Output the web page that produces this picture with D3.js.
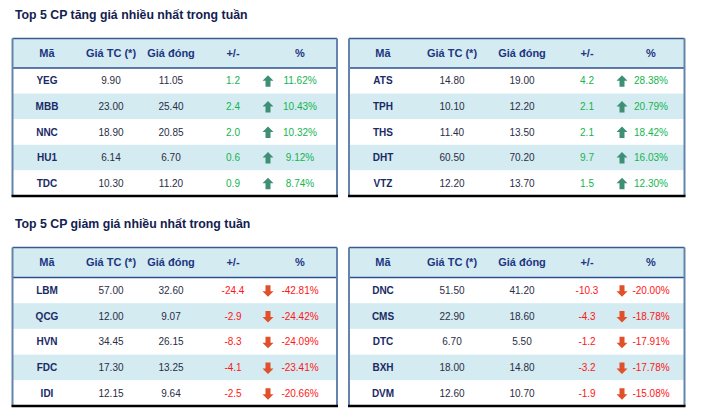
<!DOCTYPE html>
<html>
<head>
<meta charset="utf-8">
<script src="https://cdn.jsdelivr.net/npm/d3@7"></script>
<style>
  body { margin: 0; background: #fff; }
  text { font-family: "Liberation Sans", Arial, sans-serif; }
</style>
</head>
<body>
<div id="chart"></div>
<script>
// header labels
var headers = ["Mã", "Giá TC (*)", "Giá đóng", "+/-", "%"];

// top 5 tang gia - trai
var upCodes1 = ["YEG", "MBB", "NNC", "HU1", "TDC"];
var upRef1   = [9.90, 23.00, 18.90, 6.14, 10.30];
var upClose1 = [11.05, 25.40, 20.85, 6.70, 11.20];
var upChg1   = [1.2, 2.4, 2.0, 0.6, 0.9];
var upPct1   = [11.62, 10.43, 10.32, 9.12, 8.74];

// top 5 tang gia - phai
var upCodes2 = ["ATS", "TPH", "THS", "DHT", "VTZ"];
var upRef2   = [14.80, 10.10, 11.40, 60.50, 12.20];
var upClose2 = [19.00, 12.20, 13.50, 70.20, 13.70];
var upChg2   = [4.2, 2.1, 2.1, 9.7, 1.5];
var upPct2   = [28.38, 20.79, 18.42, 16.03, 12.30];

// top 5 giam gia - trai
var dnCodes1 = ["LBM", "QCG", "HVN", "FDC", "IDI"];
var dnRef1   = [57.00, 12.00, 34.45, 17.30, 12.15];
var dnClose1 = [32.60, 9.07, 26.15, 13.25, 9.64];
var dnChg1   = [-24.4, -2.9, -8.3, -4.1, -2.5];
var dnPct1   = [-42.81, -24.42, -24.09, -23.41, -20.66];

// top 5 giam gia - phai
var dnCodes2 = ["DNC", "CMS", "DTC", "BXH", "DVM"];
var dnRef2   = [51.50, 22.90, 6.70, 18.00, 12.60];
var dnClose2 = [41.20, 18.60, 5.50, 14.80, 10.70];
var dnChg2   = [-10.3, -4.3, -1.2, -3.2, -1.9];
var dnPct2   = [-20.00, -18.78, -17.91, -17.78, -15.08];

var titles = ["Top 5 CP tăng giá nhiều nhất trong tuần", "Top 5 CP giảm giá nhiều nhất trong tuần"];

function rows(codes, ref, close, chg, pct) {
  return codes.map(function(c, i) {
    return {code: c, ref: ref[i], close: close[i], chg: chg[i], pct: pct[i]};
  });
}

var w = 701, h = 417;
var green = "#12b54f", red = "#ff1616";
var navy = "#1a2a66";

var svg = d3.select("#chart").append("svg")
  .attr("width", w).attr("height", h);

svg.append("rect").attr("width", w).attr("height", h).attr("fill", "#fff");

// layout of the 4 tables
var tables = [
  {x0: 12.5, x1: 337, y0: 38.5, hy: 68, y1: 196, cols: [34.5, 98.5, 158.5, 220.5, 255.5, 287.5],
   data: rows(upCodes1, upRef1, upClose1, upChg1, upPct1)},
  {x0: 349, x1: 684.5, y0: 38.5, hy: 68, y1: 196, cols: [34, 103, 173, 238, 273, 302],
   data: rows(upCodes2, upRef2, upClose2, upChg2, upPct2)},
  {x0: 12.5, x1: 337, y0: 247.5, hy: 277.5, y1: 406, cols: [34.5, 98.5, 158.5, 220.5, 255.5, 287.5],
   data: rows(dnCodes1, dnRef1, dnClose1, dnChg1, dnPct1)},
  {x0: 349, x1: 684.5, y0: 247.5, hy: 277.5, y1: 406, cols: [34, 103, 173, 238, 273, 302],
   data: rows(dnCodes2, dnRef2, dnClose2, dnChg2, dnPct2)}
];

svg.selectAll("text.title")
  .data(titles)
  .enter()
  .append("text")
  .attr("class", "title")
  .attr("x", 15)
  .attr("y", function(d, i) { return i == 0 ? 18.5 : 227.5; })
  .attr("font-size", "12.3px")
  .attr("font-weight", "bold")
  .attr("fill", "#14214f")
  .text(function(d) { return d; });

// plain hyphen for negatives, like the source
var loc = d3.formatLocale({decimal: ".", thousands: ",", grouping: [3], currency: ["", ""], minus: "-"});
var fPrice = loc.format(".2f"), fChg = loc.format(".1f");
var fPct = function(v) { return loc.format(".2f")(v) + "%"; };

var upArrow = "M0,-6 L5.5,-0.5 L2.5,-0.5 L2.5,5.5 L-2.5,5.5 L-2.5,-0.5 L-5.5,-0.5 Z";
var downArrow = "M0,6 L5.5,0.5 L2.5,0.5 L2.5,-5.5 L-2.5,-5.5 L-2.5,0.5 L-5.5,0.5 Z";

tables.forEach(function(t) {
  var g = svg.append("g");
  var x = d3.scaleOrdinal()
    .domain(["code", "ref", "close", "chg", "arrow", "pct"])
    .range(t.cols.map(function(c) { return t.x0 + c; }));
  var y = d3.scaleBand()
    .domain(d3.range(t.data.length))
    .range([t.hy, t.y1]);

  // header background
  g.append("rect")
    .attr("x", t.x0).attr("y", t.y0)
    .attr("width", t.x1 - t.x0).attr("height", t.hy - t.y0)
    .attr("fill", "#d4ebf1");

  // row stripes
  g.selectAll("rect.row")
    .data(t.data)
    .enter()
    .append("rect")
    .attr("class", "row")
    .attr("x", t.x0)
    .attr("y", function(d, i) { return y(i); })
    .attr("width", t.x1 - t.x0)
    .attr("height", y.bandwidth())
    .attr("fill", function(d, i) { return i % 2 ? "#d4ebf1" : "#fff"; });

  // header labels
  var hx = ["code", "ref", "close", "chg", "pct"];
  g.selectAll("text.hdr")
    .data(headers)
    .enter()
    .append("text")
    .attr("class", "hdr")
    .attr("x", function(d, i) { return x(hx[i]); })
    .attr("y", (t.y0 + t.hy) / 2)
    .attr("dy", "0.36em")
    .attr("text-anchor", "middle")
    .attr("font-size", "11px")
    .attr("font-weight", "bold")
    .attr("fill", "#1d3682")
    .text(function(d) { return d; });

  var row = g.selectAll("g.r")
    .data(t.data)
    .enter()
    .append("g")
    .attr("transform", function(d, i) { return "translate(0," + (y(i) + y.bandwidth() / 2) + ")"; });

  row.append("text")
    .attr("x", x("code")).attr("dy", "0.36em")
    .attr("text-anchor", "middle")
    .attr("font-size", "10px").attr("font-weight", "bold")
    .attr("fill", navy)
    .text(function(d) { return d.code; });

  row.append("text")
    .attr("x", x("ref")).attr("dy", "0.36em")
    .attr("text-anchor", "middle")
    .attr("font-size", "10px").attr("fill", "#2a2d45")
    .text(function(d) { return fPrice(d.ref); });

  row.append("text")
    .attr("x", x("close")).attr("dy", "0.36em")
    .attr("text-anchor", "middle")
    .attr("font-size", "10px").attr("fill", "#2a2d45")
    .text(function(d) { return fPrice(d.close); });

  row.append("text")
    .attr("x", x("chg")).attr("dy", "0.36em")
    .attr("text-anchor", "middle")
    .attr("font-size", "10px")
    .attr("fill", function(d) { return d.chg >= 0 ? green : red; })
    .text(function(d) { return fChg(d.chg); });

  row.append("path")
    .attr("transform", "translate(" + x("arrow") + ",0.5)")
    .attr("d", function(d) { return d.pct >= 0 ? upArrow : downArrow; })
    .attr("fill", function(d) { return d.pct >= 0 ? "#3f8f76" : "#e0502a"; });

  row.append("text")
    .attr("x", x("pct")).attr("dy", "0.36em")
    .attr("text-anchor", "middle")
    .attr("font-size", "10px")
    .attr("fill", function(d) { return d.pct >= 0 ? green : red; })
    .text(function(d) { return fPct(d.pct); });

  // borders
  g.append("line")
    .attr("x1", t.x0).attr("x2", t.x1).attr("y1", t.y0).attr("y2", t.y0)
    .attr("stroke", "#3b5b8f").attr("stroke-width", 1.5);
  g.append("line")
    .attr("x1", t.x0).attr("x2", t.x1).attr("y1", t.hy).attr("y2", t.hy)
    .attr("stroke", "#2c4f8e").attr("stroke-width", 1.5);
  g.append("line")
    .attr("x1", t.x0).attr("x2", t.x0).attr("y1", t.y0).attr("y2", t.y1)
    .attr("stroke", "#6584ac").attr("stroke-width", 2);
  g.append("line")
    .attr("x1", t.x1).attr("x2", t.x1).attr("y1", t.y0).attr("y2", t.y1)
    .attr("stroke", "#6584ac").attr("stroke-width", 2);
  g.append("line")
    .attr("x1", t.x0 - 1).attr("x2", t.x1 + 1).attr("y1", t.y1).attr("y2", t.y1)
    .attr("stroke", "#000").attr("stroke-width", 2.5);
});
</script>
</body>
</html>
